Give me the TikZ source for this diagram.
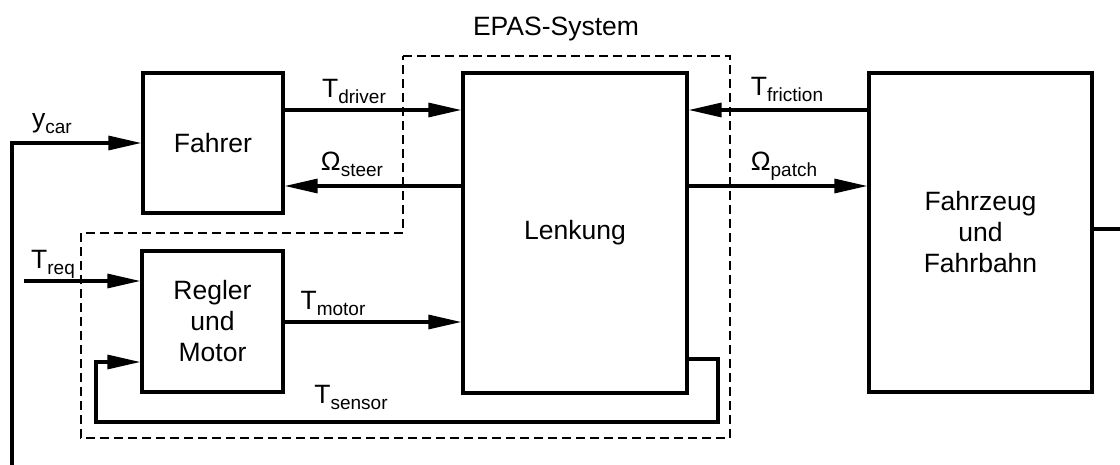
\documentclass[tikz,border=0pt]{standalone}
\usepackage{fontspec}
\setmainfont{Liberation Sans}
\usetikzlibrary{arrows.meta}
\newcommand{\lsub}[1]{\raisebox{-6pt}{\fontsize{19}{19}\selectfont #1}}
\begin{document}
\begin{tikzpicture}[x=1pt,y=-1pt,
  blk/.style={draw,line width=3.2pt,minimum width=#1,inner sep=0pt,align=center,font=\fontsize{26.5}{31}\selectfont},
  tip/.tip={Triangle[length=33pt,width=14pt]},
  sig/.style={line width=3.2pt,-tip},
  wire/.style={line width=3.2pt},
  lbl/.style={anchor=base,inner sep=0pt,font=\fontsize{26.5}{26.5}\selectfont},
  epas/.style={line width=1.5pt,dash pattern=on 9pt off 5pt}]
\useasboundingbox (0,0) rectangle (1120,464);
\node[blk=140pt,minimum height=140pt] (fahrer) at (213,143) {Fahrer};
\node[blk=141pt,minimum height=141pt] (regler) at (212.5,321.5) {Regler\\und\\Motor};
\node[blk=224pt,minimum height=320pt] (lenkung) at (575,233) {Lenkung};
\node[blk=223pt,minimum height=319pt] (fahrzeug) at (980.5,232.5) {Fahrzeug\\und\\Fahrbahn};
% EPAS system outline
\draw[epas] (403,56) -- (730,56) -- (730,438) -- (81,438) -- (81,233) -- (403,233) -- cycle;
\node[lbl] (epaslbl) at (556,35) {EPAS-System};
% signals
\draw[sig] (fahrer.east |- 0,110) -- (lenkung.west |- 0,110);
\draw[sig] (lenkung.west |- 0,186) -- (fahrer.east |- 0,186);
\draw[sig] (regler.east |- 0,322) -- (lenkung.west |- 0,322);
\draw[sig] (fahrzeug.west |- 0,110) -- (lenkung.east |- 0,110);
\draw[sig] (lenkung.east |- 0,186) -- (fahrzeug.west |- 0,186);
\coordinate (treq) at (24,281);
\draw[sig] (treq) -- (regler.west |- treq);
\coordinate (ycar) at (12,470);
\draw[sig] (ycar) |- (fahrer.west);
\coordinate (out) at (1125,229);
\draw[wire] (fahrzeug.east |- out) -- (out);
\coordinate (s1) at (718,359);
\coordinate (s2) at (96,422);
\draw[sig] (lenkung.east |- s1) -- (s1) |- (s2) |- (regler.west |- 0,362);
% labels
\node[lbl] (ltd) at (354,97) {T\lsub{driver}};
\node[lbl] (los) at (352,170) {Ω\lsub{steer}};
\node[lbl] (ltm) at (333,309) {T\lsub{motor}};
\node[lbl] (lts) at (351,403) {T\lsub{sensor}};
\node[lbl] (ltf) at (787,95) {T\lsub{friction}};
\node[lbl] (lop) at (784,170) {Ω\lsub{patch}};
\node[lbl] (lyc) at (52,127) {y\lsub{car}};
\node[lbl] (ltr) at (53,268) {T\lsub{req}};
\end{tikzpicture}
\end{document}
